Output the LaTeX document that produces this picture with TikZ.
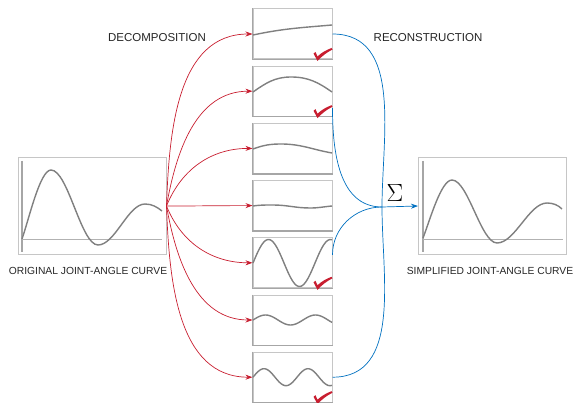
\documentclass[tikz,border=0pt]{standalone}
\usepackage{fontspec}
\setmainfont{Liberation Sans}
\usetikzlibrary{arrows.meta}

\definecolor{ckred}{RGB}{200,30,48}
\definecolor{ckblue}{RGB}{0,112,192}

\tikzset{
    panel/.style = {draw = gray!45, line width = 1pt, fill = white, minimum width = 79pt, minimum height = 50pt, inner sep = 0pt},
    bigpanel/.style = {draw = gray!45, line width = 1pt, fill = white, minimum width = 148pt, minimum height = 96pt, inner sep = 0pt},
    edge/.style = {draw = gray!70, line width = 1.6pt},
    wave/.style = {draw = gray, line width = 1.4pt},
    redarrow/.style = {draw = ckred, line width = 0.7pt, -{Stealth[length = 7pt, width = 5pt]}},
    bluearrow/.style = {draw = ckblue, line width = 0.7pt},
    heading/.style = {font = \fontsize{11.5}{13}\selectfont, text = black!85},
    caption/.style = {font = \fontsize{10.3}{12}\selectfont, text = black!85},
    check/.pic = {
        \fill [ckred] (-19, 6) -- (-17, 7.5) -- (-15, 3) .. controls (-11, 7) and (-6, 9.5) .. (-1, 11.5)
            -- (0, 10) .. controls (-6, 7) and (-11, 3) .. (-15, -1.5) -- cycle;
    }
}

\begin{document}
\begin{tikzpicture}[x = 1pt, y = 1pt]
        \useasboundingbox (0, 0) rectangle (580, -403);

        % original and simplified curve
        \node [bigpanel] (orig) at (92, -206) {};
        \node [bigpanel] (simp) at (492.5, -206) {};
        \draw [edge] (22, -161) -- (22, -252);
        \draw [draw = gray!60, line width = 1pt] (22, -239) -- (162, -239);
        \draw [wave] (22, -239) .. controls (29, -219) and (40, -170) .. (51, -170)
            .. controls (68, -170) and (81, -245) .. (98, -245)
            .. controls (115, -245) and (128, -204) .. (145, -204)
            .. controls (152, -204) and (157, -207) .. (162, -211);
        \draw [edge] (423, -161) -- (423, -252);
        \draw [draw = gray!60, line width = 1pt] (423, -239) -- (563, -239);
        \draw [wave] (423, -238) .. controls (430, -220) and (441, -180) .. (452, -180)
            .. controls (468, -180) and (481, -243) .. (497, -243)
            .. controls (515, -243) and (529, -203) .. (547, -203)
            .. controls (553, -203) and (558, -205) .. (562, -209);
        \node [caption] (origlbl) at (88, -271) {ORIGINAL JOINT-ANGLE CURVE};
        \node [caption] (simplbl) at (490, -271) {SIMPLIFIED JOINT-ANGLE CURVE};

        % components
        \foreach \i in {1,...,7} {
            \node [panel] (p\i) at (292.5, {-34 - 57.2*(\i - 1)}) {};
            \draw [edge] (p\i.north west) -- (p\i.south west) -- (p\i.south east);
        }
        \draw [wave] (253, -35) to [out = 12, in = 185] (332, -25);
        \draw [wave] (253, -92) to [out = 35, in = 180] (291, -77) to [out = 0, in = 145] (332, -92);
        \draw [wave] (253, -149) to [out = 20, in = 180] (281, -144) to [out = 0, in = 170] (332, -153);
        \draw [wave] (253, -206) to [out = 8, in = 180] (273, -205) to [out = 0, in = 180] (310, -208) to [out = 0, in = 185] (332, -206);
        \draw [wave] plot [domain = 0:79, samples = 60] ({253 + \x}, {-263 + 23.5*sin(\x/62*360)});
        \draw [wave] plot [domain = 0:79, samples = 60] ({253 + \x}, {-320 + 5*sin(\x/50*360)});
        \draw [wave] plot [domain = 0:79, samples = 60] ({253 + \x}, {-377.2 + 8.5*sin(\x/44*360)});
        \foreach \i in {1, 2, 5, 7}
            \pic at (p\i.south east) {check};

        % decomposition
        \foreach \i/\a in {1/88, 2/80, 3/68, 4/0, 5/-68, 6/-80, 7/-88}
            \draw [redarrow] (orig.east) to [out = \a, in = 180] (p\i.west);
        \node [heading] (declbl) at (157, -38) {DECOMPOSITION};

        % reconstruction
        \coordinate (sum) at (382, -207);
        \draw [bluearrow] (p1.east) to [out = 0, in = 90] (sum);
        \draw [bluearrow] ([yshift = -17pt]p2.east) to [out = -90, in = 180] (sum);
        \draw [bluearrow] ([yshift = 8pt]p5.east) to [out = 90, in = 180] (sum);
        \draw [bluearrow] (p7.east) to [out = 0, in = -90] (sum);
        \draw [bluearrow, -{Stealth[length = 7pt, width = 5pt]}] (sum) -- (simp.west);
        \node [font = \fontsize{25}{25}\selectfont] (sigma) at (395, -193) {$\Sigma$};
        \node [heading] (reclbl) at (428, -38) {RECONSTRUCTION};
    \end{tikzpicture}
\end{document}
